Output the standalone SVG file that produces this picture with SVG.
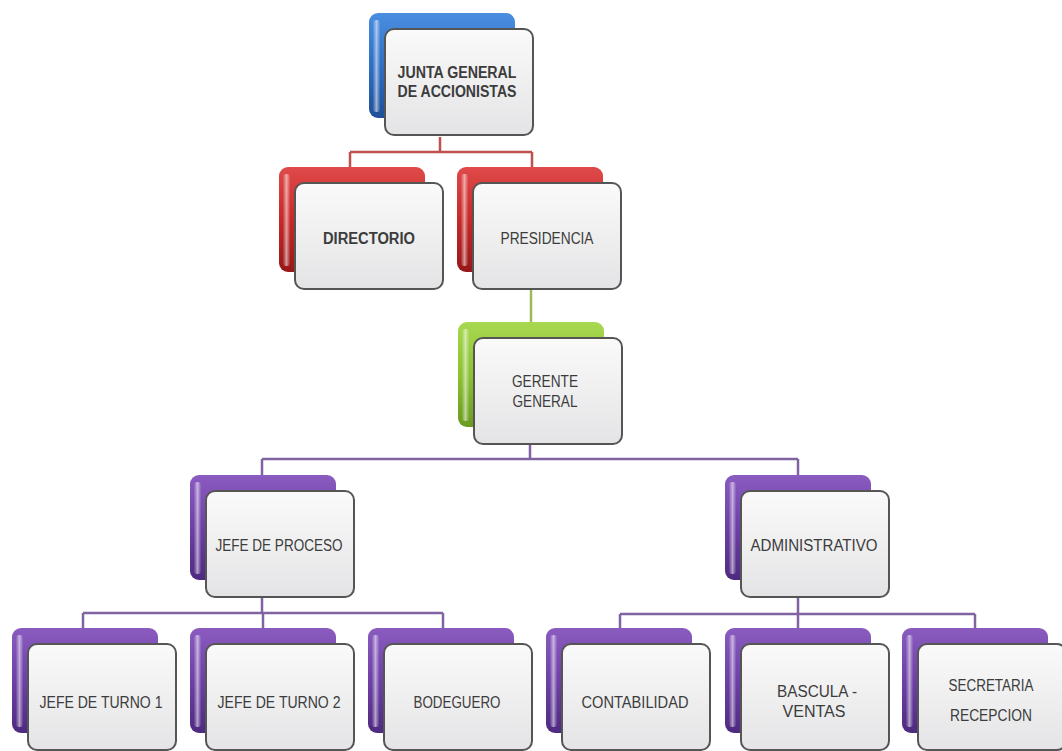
<svg xmlns="http://www.w3.org/2000/svg" width="1062" height="751" viewBox="0 0 1062 751">
<defs>
<linearGradient id="gBlue" x1="0" y1="0" x2="0" y2="1"><stop offset="0" stop-color="#4a8ee0"/><stop offset="0.5" stop-color="#2f6fc6"/><stop offset="1" stop-color="#1f4f98"/></linearGradient>
<linearGradient id="gRed" x1="0" y1="0" x2="0" y2="1"><stop offset="0" stop-color="#e04a4a"/><stop offset="0.5" stop-color="#c82828"/><stop offset="1" stop-color="#961818"/></linearGradient>
<linearGradient id="gGreen" x1="0" y1="0" x2="0" y2="1"><stop offset="0" stop-color="#a8d850"/><stop offset="0.5" stop-color="#8cc232"/><stop offset="1" stop-color="#6a9a20"/></linearGradient>
<linearGradient id="gPurple" x1="0" y1="0" x2="0" y2="1"><stop offset="0" stop-color="#8a5cc0"/><stop offset="0.5" stop-color="#6e40a6"/><stop offset="1" stop-color="#4e2a80"/></linearGradient>
<linearGradient id="gFront" x1="0" y1="0" x2="0" y2="1"><stop offset="0" stop-color="#fafafa"/><stop offset="1" stop-color="#e4e4e6"/></linearGradient>
<linearGradient id="gHi" x1="0" y1="0" x2="1" y2="0"><stop offset="0" stop-color="#ffffff" stop-opacity="0.05"/><stop offset="0.5" stop-color="#ffffff" stop-opacity="0.55"/><stop offset="1" stop-color="#ffffff" stop-opacity="0.05"/></linearGradient>
</defs>
<style>
.back{stroke:none}
.b{fill:url(#gBlue)}
.r{fill:url(#gRed)}
.g{fill:url(#gGreen)}
.p{fill:url(#gPurple)}
.hi{fill:url(#gHi)}
.front{fill:url(#gFront);stroke:#555555;stroke-width:2}
text{font-family:"Liberation Sans","Open Sans",sans-serif;font-size:16px;fill:#3c3c3c;text-anchor:middle}
.bold{font-weight:bold}
.cr{fill:none;stroke:#c0504d;stroke-width:2.5}
.cg{fill:none;stroke:#9bbb59;stroke-width:2.5}
.cp{fill:none;stroke:#8064a2;stroke-width:2.5}
</style>
<rect width="1062" height="751" fill="#ffffff"/>
<g id="connectors">
<path class="cr" d="M440,137 V152 M350,152 H532 M350,152 V167 M532,152 V167"/>
<path class="cg" d="M531,289 V322"/>
<path class="cp" d="M530,444 V459 M262,459 H798 M262,459 V475 M798,459 V475"/>
<path class="cp" d="M262,597 V613 M83,613 H443 M83,613 V628 M263,613 V628 M443,613 V628"/>
<path class="cp" d="M798,597 V614 M620,614 H975 M620,614 V628 M798,614 V628 M975,614 V628"/>
</g>
<g id="junta">
<rect class="back b" x="369" y="13" width="146" height="105" rx="9"/>
<rect class="hi" x="373" y="20" width="7" height="92" rx="3"/>
<rect class="front" x="385" y="29" width="148" height="106" rx="9"/>
<text class="bold" x="457" y="78" textLength="119" lengthAdjust="spacingAndGlyphs">JUNTA GENERAL</text>
<text class="bold" x="457" y="97" textLength="119" lengthAdjust="spacingAndGlyphs">DE ACCIONISTAS</text>
</g>
<g id="directorio">
<rect class="back r" x="279" y="167" width="146" height="105" rx="9"/>
<rect class="hi" x="283" y="174" width="7" height="92" rx="3"/>
<rect class="front" x="295" y="183" width="148" height="106" rx="9"/>
<text class="bold" x="369" y="244" textLength="92" lengthAdjust="spacingAndGlyphs">DIRECTORIO</text>
</g>
<g id="presidencia">
<rect class="back r" x="457" y="167" width="146" height="105" rx="9"/>
<rect class="hi" x="461" y="174" width="7" height="92" rx="3"/>
<rect class="front" x="473" y="183" width="148" height="106" rx="9"/>
<text x="547" y="244" textLength="93" lengthAdjust="spacingAndGlyphs">PRESIDENCIA</text>
</g>
<g id="gerente">
<rect class="back g" x="458" y="322" width="146" height="105" rx="9"/>
<rect class="hi" x="462" y="329" width="7" height="92" rx="3"/>
<rect class="front" x="474" y="338" width="148" height="106" rx="9"/>
<text x="545" y="387" textLength="66" lengthAdjust="spacingAndGlyphs">GERENTE</text>
<text x="545" y="407" textLength="65" lengthAdjust="spacingAndGlyphs">GENERAL</text>
</g>
<g id="jefe-proceso">
<rect class="back p" x="190" y="475" width="146" height="105" rx="9"/>
<rect class="hi" x="194" y="482" width="7" height="92" rx="3"/>
<rect class="front" x="206" y="491" width="148" height="106" rx="9"/>
<text x="279" y="551" textLength="127" lengthAdjust="spacingAndGlyphs">JEFE DE PROCESO</text>
</g>
<g id="administrativo">
<rect class="back p" x="725" y="475" width="146" height="105" rx="9"/>
<rect class="hi" x="729" y="482" width="7" height="92" rx="3"/>
<rect class="front" x="741" y="491" width="148" height="106" rx="9"/>
<text x="814" y="551" textLength="127" lengthAdjust="spacingAndGlyphs">ADMINISTRATIVO</text>
</g>
<g id="jefe-turno-1">
<rect class="back p" x="12" y="628" width="146" height="105" rx="9"/>
<rect class="hi" x="16" y="635" width="7" height="92" rx="3"/>
<rect class="front" x="28" y="644" width="148" height="106" rx="9"/>
<text x="101" y="708" textLength="123" lengthAdjust="spacingAndGlyphs">JEFE DE TURNO 1</text>
</g>
<g id="jefe-turno-2">
<rect class="back p" x="190" y="628" width="146" height="105" rx="9"/>
<rect class="hi" x="194" y="635" width="7" height="92" rx="3"/>
<rect class="front" x="206" y="644" width="148" height="106" rx="9"/>
<text x="279" y="708" textLength="123" lengthAdjust="spacingAndGlyphs">JEFE DE TURNO 2</text>
</g>
<g id="bodeguero">
<rect class="back p" x="368" y="628" width="146" height="105" rx="9"/>
<rect class="hi" x="372" y="635" width="7" height="92" rx="3"/>
<rect class="front" x="384" y="644" width="148" height="106" rx="9"/>
<text x="457" y="708" textLength="87" lengthAdjust="spacingAndGlyphs">BODEGUERO</text>
</g>
<g id="contabilidad">
<rect class="back p" x="546" y="628" width="146" height="105" rx="9"/>
<rect class="hi" x="550" y="635" width="7" height="92" rx="3"/>
<rect class="front" x="562" y="644" width="148" height="106" rx="9"/>
<text x="635" y="708" textLength="107" lengthAdjust="spacingAndGlyphs">CONTABILIDAD</text>
</g>
<g id="bascula-ventas">
<rect class="back p" x="725" y="628" width="146" height="105" rx="9"/>
<rect class="hi" x="729" y="635" width="7" height="92" rx="3"/>
<rect class="front" x="741" y="644" width="148" height="106" rx="9"/>
<text x="817" y="697" textLength="80" lengthAdjust="spacingAndGlyphs">BASCULA -</text>
<text x="814" y="717" textLength="63" lengthAdjust="spacingAndGlyphs">VENTAS</text>
</g>
<g id="secretaria-recepcion">
<rect class="back p" x="902" y="628" width="146" height="105" rx="9"/>
<rect class="hi" x="906" y="635" width="7" height="92" rx="3"/>
<rect class="front" x="918" y="644" width="148" height="106" rx="9"/>
<text x="991" y="691" textLength="85" lengthAdjust="spacingAndGlyphs">SECRETARIA</text>
<text x="991" y="721" textLength="82" lengthAdjust="spacingAndGlyphs">RECEPCION</text>
</g>
</svg>
